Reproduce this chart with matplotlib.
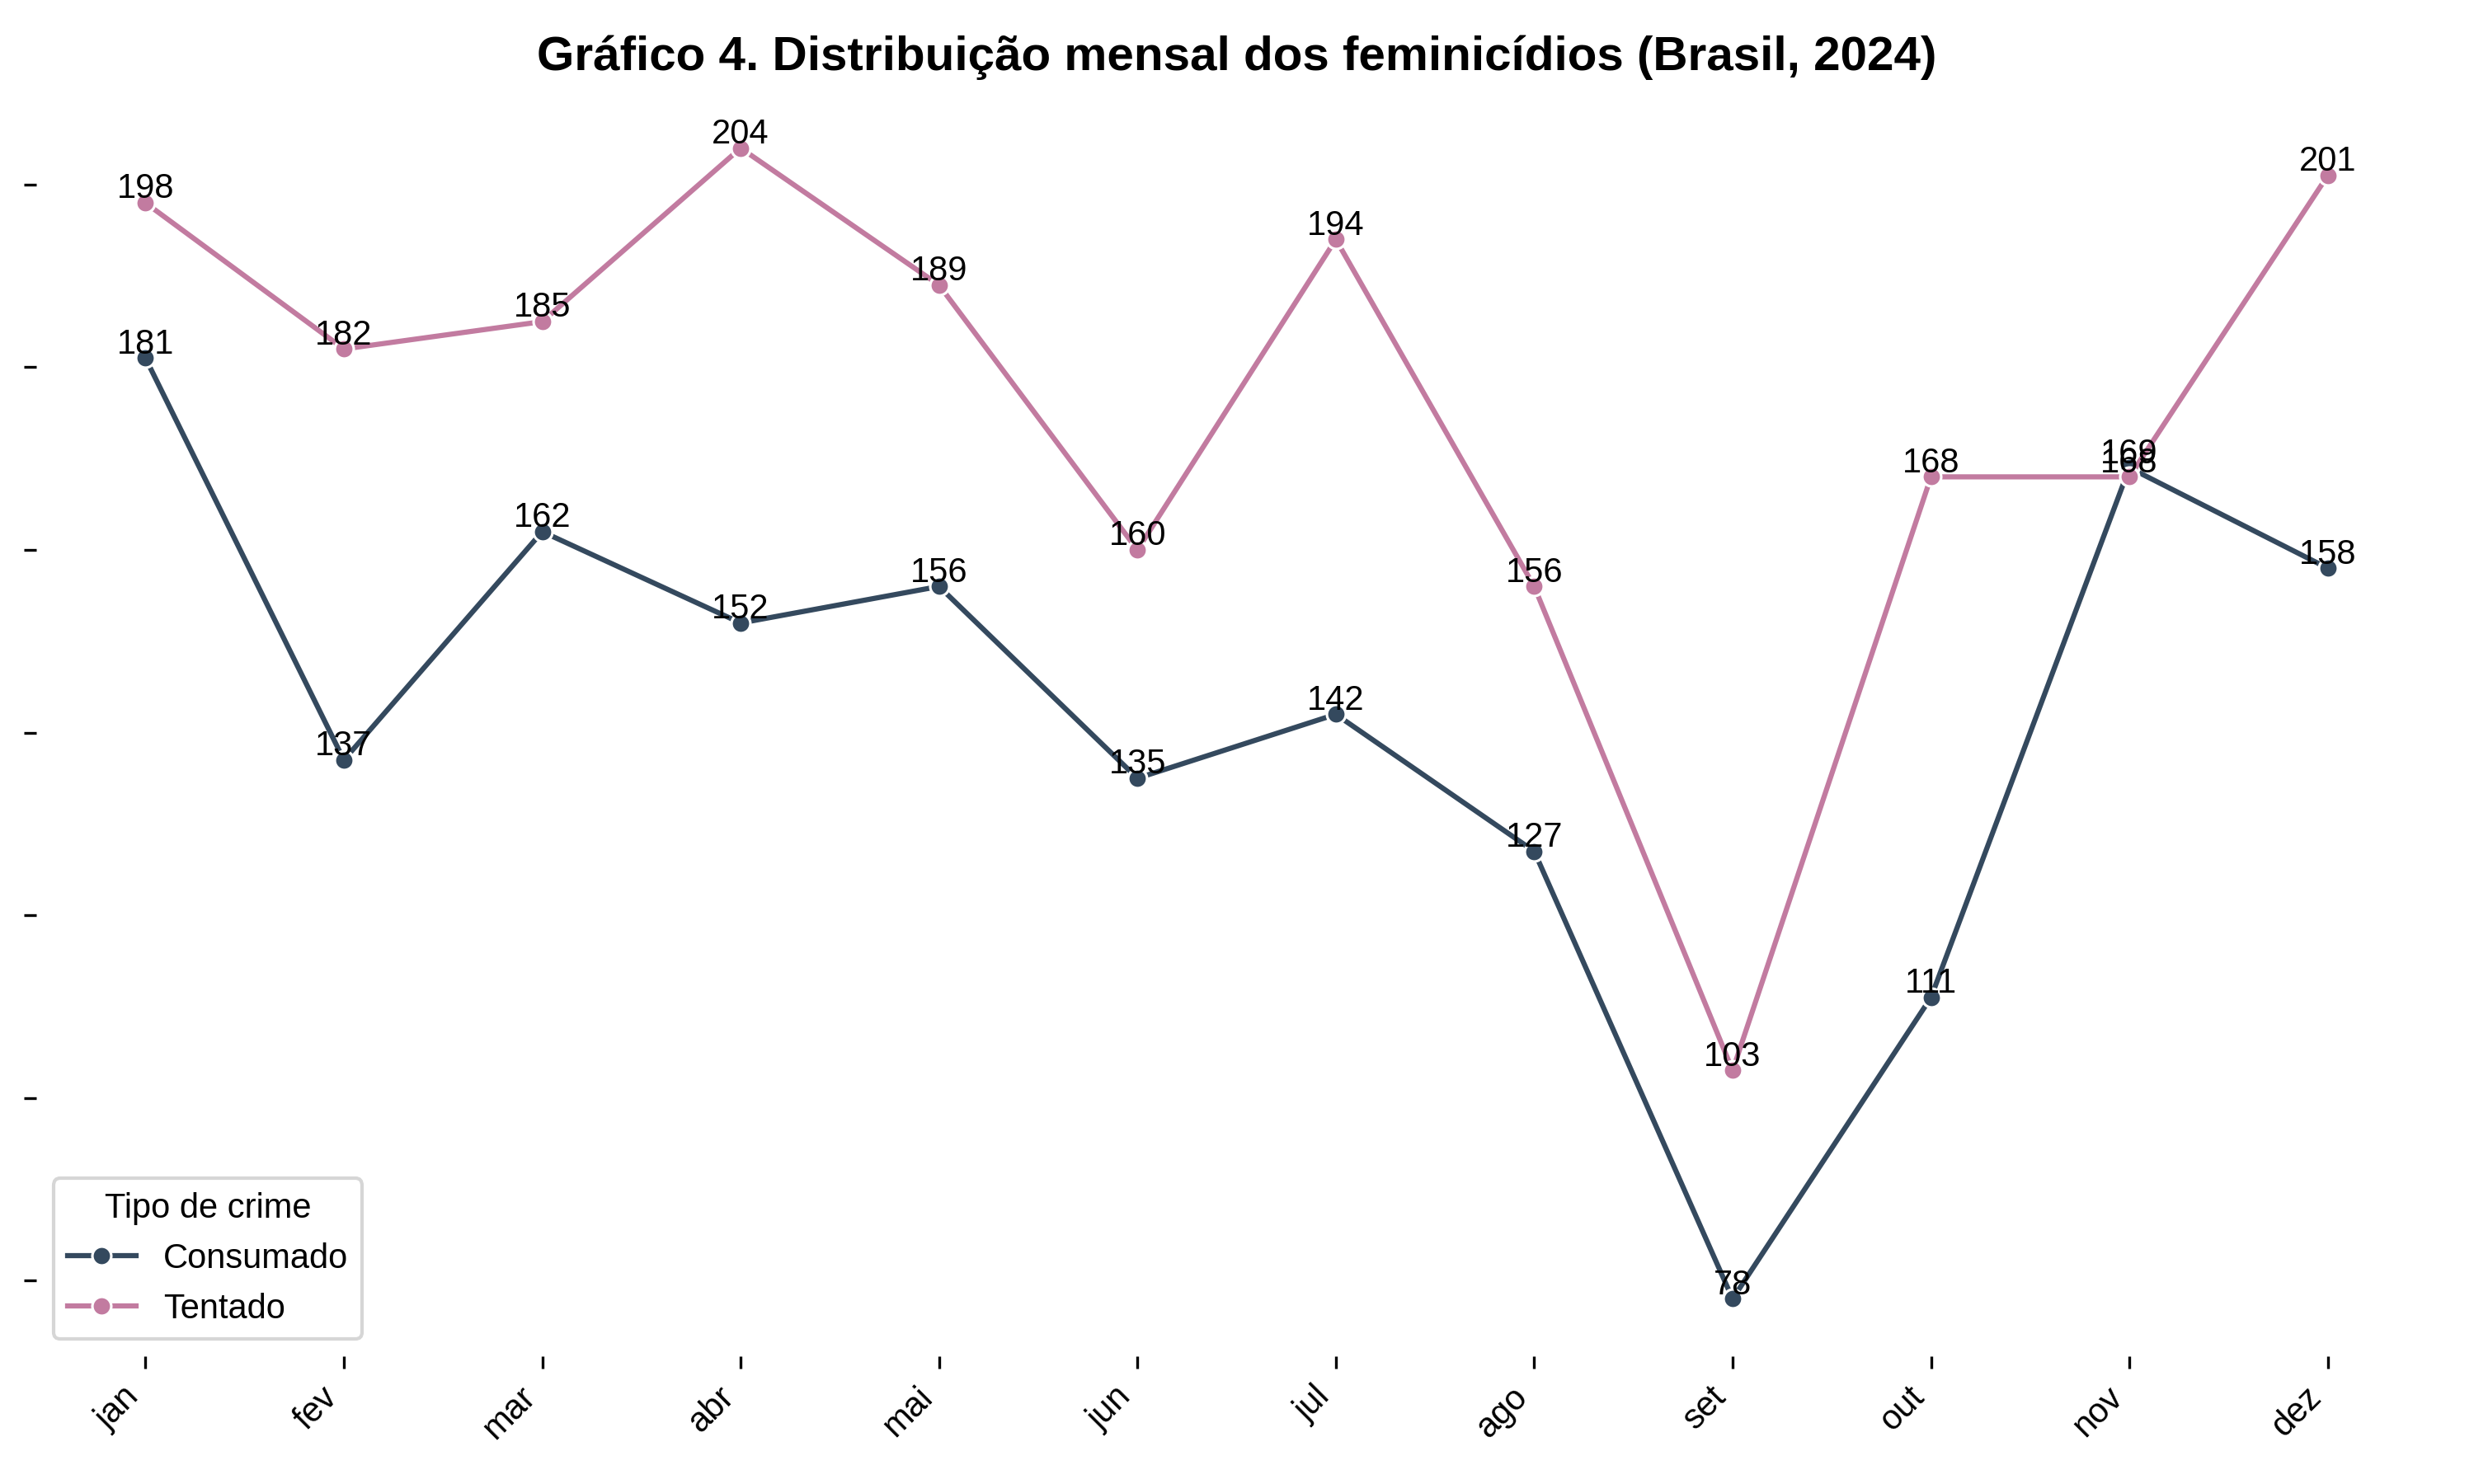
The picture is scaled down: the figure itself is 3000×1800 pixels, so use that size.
import matplotlib
matplotlib.use("Agg")
import matplotlib.pyplot as plt

plt.rcParams['font.family'] = ['Liberation Sans', 'DejaVu Sans']

meses = ["jan", "fev", "mar", "abr", "mai", "jun", "jul", "ago", "set", "out", "nov", "dez"]
consumado = [181, 137, 162, 152, 156, 135, 142, 127, 78, 111, 169, 158]
tentado = [198, 182, 185, 204, 189, 160, 194, 156, 103, 168, 168, 201]
series_names = ["Consumado", "Tentado"]
colors = ["#34495e", "#c27ba0"]

fig = plt.figure(figsize=(10, 6), dpi=300)
ax = fig.add_axes([0.0147, 0.086, 0.9703, 0.853])

x = list(range(len(meses)))
for name, vals, c in zip(series_names, [consumado, tentado], colors):
    ax.plot(x, vals, color=c, lw=1.5, marker='o', markersize=5.5,
            markeredgecolor='white', markeredgewidth=0.75, label=name)
    for xi, v in zip(x, vals):
        ax.annotate(str(v), (xi, v), xytext=(0, -0.8), textcoords='offset points',
                    ha='center', va='bottom', fontsize=10, color='black')

ax.set_xticks(x)
ax.set_xticklabels(meses, rotation=45, ha='right', rotation_mode='default', fontsize=10)
ax.set_yticks([80, 100, 120, 140, 160, 180, 200])
ax.set_yticklabels([])
for s in ax.spines.values():
    s.set_visible(False)
ax.tick_params(axis='both', length=3.5, width=0.8)

ax.set_title("Gráfico 4. Distribuição mensal dos feminicídios (Brasil, 2024)",
             fontsize=14, fontweight='bold', pad=6)
ax.legend(title="Tipo de crime", loc='lower left', fontsize=10, title_fontsize=10)

fig.savefig("out.png", dpi=300)
